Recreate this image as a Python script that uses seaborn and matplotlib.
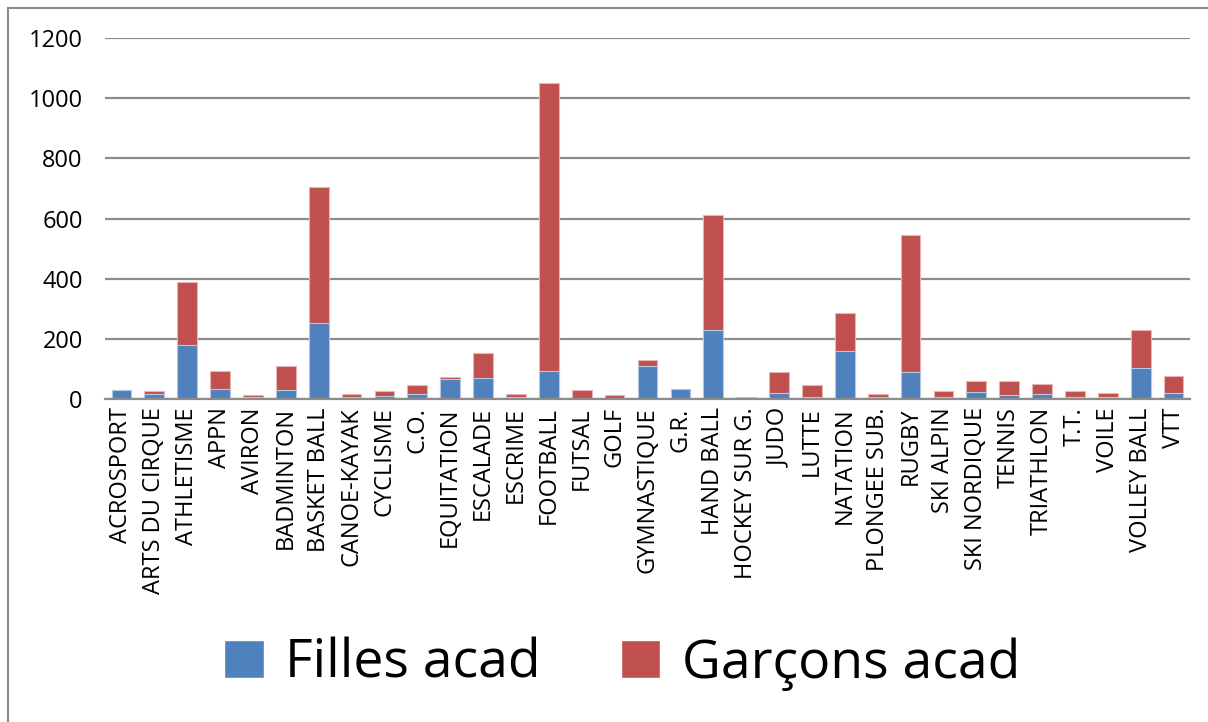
import matplotlib
matplotlib.use("Agg")
import matplotlib.pyplot as plt
from matplotlib.patches import Patch, Rectangle
import seaborn as sns
import pandas as pd

sports = ["ACROSPORT", "ARTS DU CIRQUE", "ATHLETISME", "APPN", "AVIRON",
          "BADMINTON", "BASKET BALL", "CANOE-KAYAK", "CYCLISME", "C.O.",
          "EQUITATION", "ESCALADE", "ESCRIME", "FOOTBALL", "FUTSAL", "GOLF",
          "GYMNASTIQUE", "G.R.", "HAND BALL", "HOCKEY SUR G.", "JUDO", "LUTTE",
          "NATATION", "PLONGEE SUB.", "RUGBY", "SKI ALPIN", "SKI NORDIQUE",
          "TENNIS", "TRIATHLON", "T.T.", "VOILE", "VOLLEY BALL", "VTT"]

filles = [31, 18, 178, 34, 5, 29, 252, 8, 9, 16,
          68, 71, 6, 93, 1, 1, 111, 32, 228, 1, 19, 8,
          159, 6, 89, 6, 22, 12, 16, 8, 8, 102, 21]

garcons = [0, 9, 212, 58, 8, 82, 454, 10, 18, 32,
           5, 81, 11, 957, 30, 13, 20, 0, 382, 6, 72, 38,
           127, 10, 457, 20, 37, 49, 33, 20, 13, 128, 57]

bleu = "#4F81BD"
rouge = "#C0504D"

df = pd.DataFrame({"sport": sports, "filles": filles, "garcons": garcons})
df["total"] = df["filles"] + df["garcons"]

sns.set_style("white")
plt.rcParams["font.family"] = ["Open Sans", "DejaVu Sans"]
plt.rcParams["text.color"] = "black"
plt.rcParams["xtick.color"] = "black"
plt.rcParams["ytick.color"] = "black"

fig = plt.figure(figsize=(12.08, 7.22), dpi=100)
ax = fig.add_axes([105 / 1208, 1 - 399 / 722, 1085 / 1208, 361 / 722])

# barres empilées : total (rouge) puis filles (bleu) par-dessus
sns.barplot(data=df, x="sport", y="total", color=rouge, saturation=1,
            width=0.6, edgecolor="#E8B5B4", linewidth=0.8, ax=ax)
sns.barplot(data=df, x="sport", y="filles", color=bleu, saturation=1,
            width=0.6, edgecolor="#B7C9E2", linewidth=0.8, ax=ax)

ax.set_ylim(0, 1200)
ax.set_xlim(-0.5, len(sports) - 0.5)
ax.set_yticks(range(0, 1201, 200))
ax.yaxis.grid(True, color="#8C8C8C", linewidth=1.6)
ax.set_axisbelow(True)
for s in ["top", "right", "left"]:
    ax.spines[s].set_visible(False)
ax.spines["bottom"].set_color("#8C8C8C")
ax.spines["bottom"].set_linewidth(1.6)
ax.set_xlabel("")
ax.set_ylabel("")
ax.tick_params(axis="y", length=0, labelsize=17, pad=16)
ax.tick_params(axis="x", length=0, labelsize=17, pad=6, labelrotation=90)

# bordure extérieure
fig.patches.append(Rectangle((8 / 1208, -0.1), 1.2, 1 - 8 / 722 + 0.1,
                             transform=fig.transFigure, fill=False,
                             edgecolor="#8C8C8C", linewidth=1.5))

handles = [Patch(facecolor=bleu, label="Filles acad"),
           Patch(facecolor=rouge, label="Garçons acad")]
fig.legend(handles=handles, loc="center", bbox_to_anchor=(622 / 1208, 1 - 664 / 722),
           ncol=2, frameon=False, fontsize=38.5, handlelength=0.74,
           handleheight=0.74, handletextpad=0.4, columnspacing=1.5)

fig.savefig("out.png", dpi=100)
